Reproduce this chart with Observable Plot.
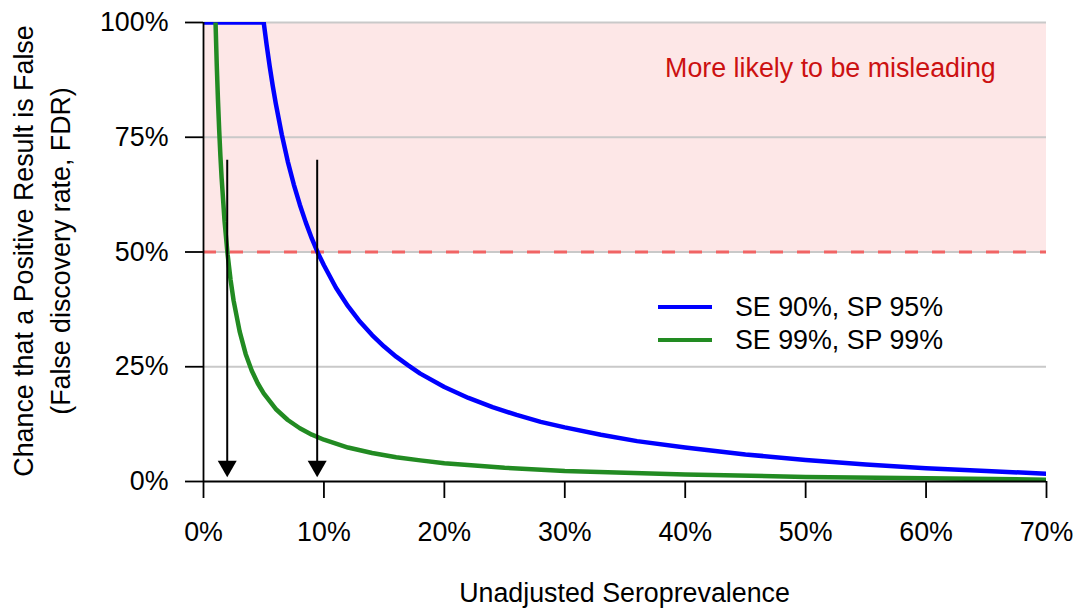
<!DOCTYPE html>
<html>
<head>
<meta charset="utf-8">
<script src="https://cdn.jsdelivr.net/npm/d3@7"></script>
<script src="https://cdn.jsdelivr.net/npm/@observablehq/plot@0.6"></script>
<style>
  body { margin: 0; background: #fff; }
  #wrap { position: relative; width: 1078px; height: 611px; overflow: hidden;
          font-family: "Liberation Sans", Arial, Helvetica, sans-serif; color: #000; }
  #wrap svg { position: absolute; left: 0; top: 0; }
  .ov { position: absolute; font-size: 26.8px; white-space: nowrap; }
</style>
</head>
<body>
<div id="wrap"></div>
<script>
// ---- data ----
const seriesNames = ["SE 90%, SP 95%", "SE 99%, SP 99%"];
const seriesColors = ["#0000ff", "#228b22"];

const blueX = [0, 5, 5.25, 5.5, 5.75, 6, 6.5, 7, 7.5, 8, 8.5, 9, 9.5, 10, 11, 12, 13, 14, 15, 16, 17, 18, 20, 22, 24, 26, 28, 30, 33, 36, 40, 45, 50, 55, 60, 65, 70];
const blueY = [100, 100, 95.0, 90.4, 86.2, 82.4, 75.6, 69.7, 64.7, 60.3, 56.4, 52.9, 49.8, 47.1, 42.2, 38.2, 34.8, 31.9, 29.4, 27.2, 25.3, 23.5, 20.6, 18.2, 16.2, 14.5, 13.0, 11.8, 10.2, 8.8, 7.4, 5.9, 4.7, 3.7, 2.9, 2.3, 1.7];

const greenX = [1, 1.1, 1.2, 1.3, 1.4, 1.5, 1.75, 2, 2.25, 2.5, 3, 3.5, 4, 4.5, 5, 6, 7, 8, 9, 10, 12, 14, 16, 18, 20, 25, 30, 35, 40, 50, 60, 70];
const greenY = [100, 90.8, 83.2, 76.7, 71.1, 66.3, 56.7, 49.5, 43.9, 39.4, 32.7, 27.8, 24.2, 21.4, 19.2, 15.8, 13.4, 11.6, 10.2, 9.1, 7.4, 6.2, 5.3, 4.6, 4.0, 3.0, 2.3, 1.9, 1.5, 1.0, 0.7, 0.4];

const xTicks = [0, 10, 20, 30, 40, 50, 60, 70];
const yTicks = [0, 25, 50, 75, 100];
const gridTicks = [25, 50, 75, 100];
const threshold = [50];
const zoneBounds = [{x1: 0, x2: 70, y1: 50, y2: 100}];
const arrowX = [1.97, 9.44];
const arrowTop = 70;
const arrowTip = 0.9;
const noteText = ["More likely to be misleading"];
const noteAt = {x: 52.06, y: 90.1};
const xTitle = "Unadjusted Seroprevalence";
const yTitleLines = ["Chance that a Positive Result is False", "(False discovery rate, FDR)"];

// ---- build tables ----
const blue = blueX.map((x, i) => ({x, y: blueY[i]}));
const green = greenX.map((x, i) => ({x, y: greenY[i]}));
const arrows = arrowX.map(x => ({x, top: arrowTop, tip: arrowTip}));

const downTriangle = {
  draw(ctx) {
    ctx.moveTo(0, 0);
    ctx.lineTo(-9.5, -16.5);
    ctx.lineTo(9.5, -16.5);
    ctx.closePath();
  }
};

const FONT = '"Liberation Sans", Arial, Helvetica, sans-serif';
const FS = 26.8;
const pct = d => d + "%";

const chart = Plot.plot({
  width: 1078,
  height: 611,
  marginTop: 22,
  marginRight: 32,
  marginBottom: 130,
  marginLeft: 203,
  style: {fontFamily: FONT, fontSize: FS + "px", background: "white", color: "black", overflow: "visible"},
  x: {domain: [0, 70]},
  y: {domain: [0, 100]},
  marks: [
    Plot.rect(zoneBounds, {x1: "x1", x2: "x2", y1: "y1", y2: "y2", fill: "#fde7e7"}),
    Plot.gridY(gridTicks, {stroke: "#c9c9c9", strokeOpacity: 1, strokeWidth: 2}),
    Plot.ruleY(threshold, {stroke: "#f06464", strokeWidth: 3, strokeDasharray: "13,14"}),
    Plot.line(blue, {x: "x", y: "y", stroke: seriesColors[0], strokeWidth: 4.5, strokeLinecap: "butt", strokeLinejoin: "round", clip: true}),
    Plot.line(green, {x: "x", y: "y", stroke: seriesColors[1], strokeWidth: 4.5, strokeLinecap: "butt", strokeLinejoin: "round", clip: true}),
    Plot.ruleX([0], {y1: 0, y2: 100, stroke: "black", strokeWidth: 1.8}),
    Plot.ruleY([0], {x1: 0, x2: 70, stroke: "black", strokeWidth: 1.8}),
    Plot.axisY(yTicks, {tickSize: 18, tickPadding: 17, tickFormat: pct, fontSize: FS, strokeWidth: 1.8, label: null}),
    Plot.axisX(xTicks, {tickSize: 17, tickPadding: 23, tickFormat: pct, fontSize: FS, strokeWidth: 1.8, label: null}),
    Plot.ruleX(arrows, {x: "x", y1: "top", y2: d => d.tip + 2, stroke: "black", strokeWidth: 2}),
    Plot.dot(arrows, {x: "x", y: "tip", symbol: downTriangle, fill: "black", stroke: "none", r: 7}),
    Plot.text(noteText, {x: noteAt.x, y: noteAt.y, text: d => d, fill: "#cc1111", fontSize: FS, textAnchor: "middle", lineAnchor: "middle"})
  ]
});

const wrap = document.getElementById("wrap");
wrap.appendChild(chart);

// y-axis title (two lines, rotated)
const yt = document.createElement("div");
yt.className = "ov";
Object.assign(yt.style, {
  left: (43 - 250) + "px", top: (251 - 37) + "px", width: "500px", height: "74px",
  lineHeight: "37px", textAlign: "center", transform: "rotate(-90deg)", transformOrigin: "50% 50%"
});
yt.innerHTML = yTitleLines.map(s => `<div>${s}</div>`).join("");
wrap.appendChild(yt);

// x-axis title
const xt = document.createElement("div");
xt.className = "ov";
Object.assign(xt.style, {left: (624.5 - 300) + "px", top: "578px", width: "600px", lineHeight: "30px", textAlign: "center"});
xt.textContent = xTitle;
wrap.appendChild(xt);

// legend
const legendCenters = [307, 340];
seriesNames.forEach((name, i) => {
  const ln = document.createElement("div");
  Object.assign(ln.style, {position: "absolute", left: "658px", top: (legendCenters[i] - 2.25) + "px",
    width: "54px", height: "4.5px", background: seriesColors[i]});
  wrap.appendChild(ln);
  const tx = document.createElement("div");
  tx.className = "ov";
  Object.assign(tx.style, {left: "735px", top: (legendCenters[i] - 15.5) + "px", lineHeight: "30px"});
  tx.textContent = name;
  wrap.appendChild(tx);
});
</script>
</body>
</html>
